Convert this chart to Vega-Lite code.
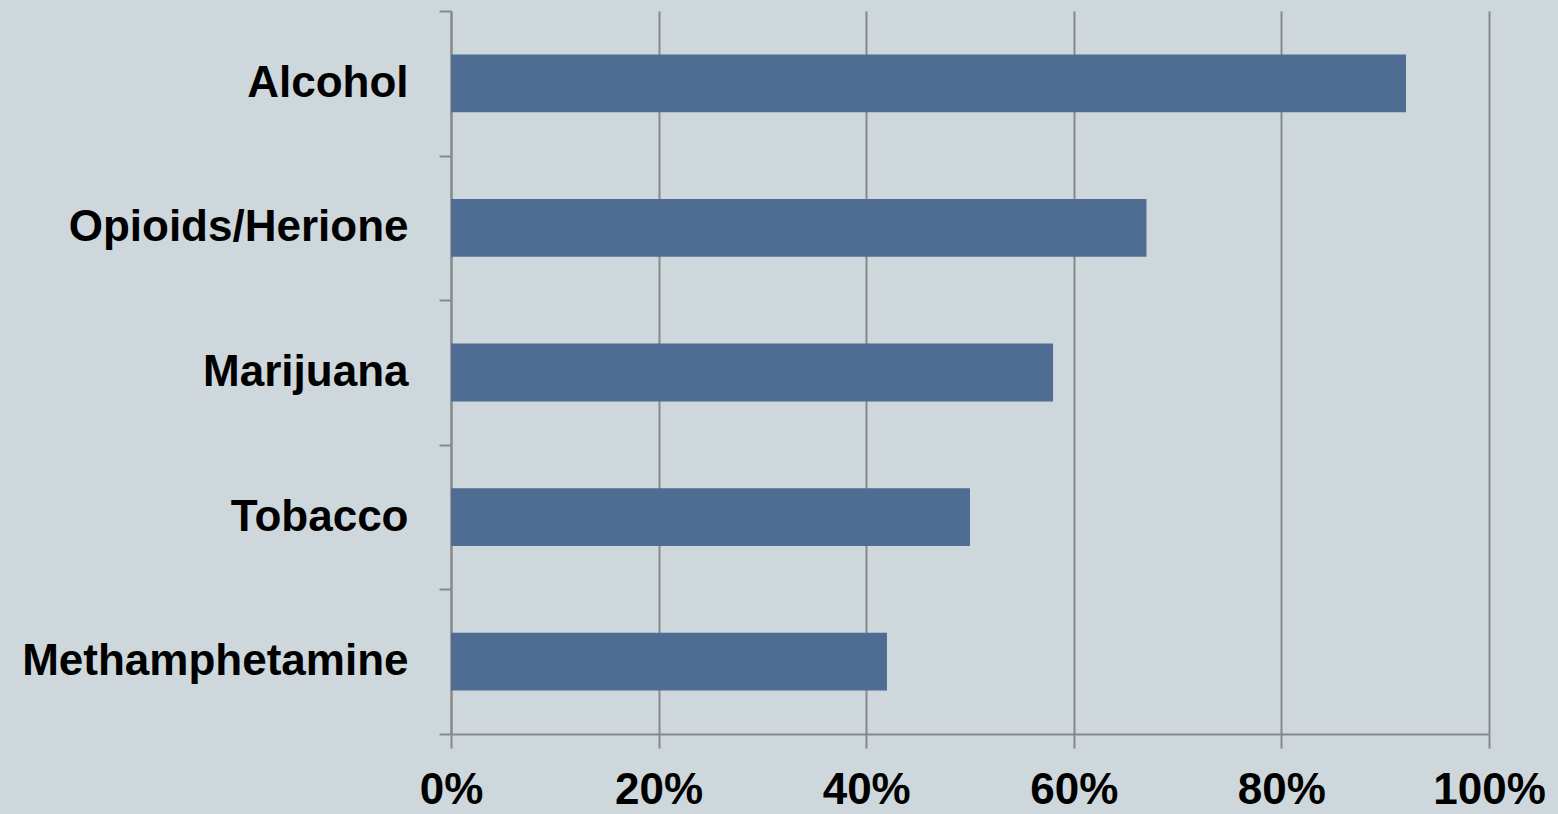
{
  "$schema": "https://vega.github.io/schema/vega-lite/v6.json",
  "autosize": {"type": "none"},
  "width": 1038,
  "height": 723,
  "padding": {"left": 451, "top": 11, "right": 69, "bottom": 80},
  "background": "#CED8DC",
  "config": {
    "view": {"stroke": null},
    "font": "Liberation Sans"
  },
  "data": {
    "values": [
      {"substance": "Alcohol", "share": 0.92},
      {"substance": "Opioids/Herione", "share": 0.67},
      {"substance": "Marijuana", "share": 0.58},
      {"substance": "Tobacco", "share": 0.50},
      {"substance": "Methamphetamine", "share": 0.42}
    ]
  },
  "mark": {"type": "bar", "color": "#4F6C92", "height": {"band": 0.4}},
  "encoding": {
    "y": {
      "field": "substance",
      "type": "nominal",
      "sort": null,
      "scale": {"paddingInner": 0, "paddingOuter": 0},
      "axis": {
        "title": null,
        "tickBand": "extent",
        "tickSize": 12,
        "tickWidth": 2,
        "tickColor": "#888888",
        "domainColor": "#888888",
        "domainWidth": 2,
        "labelPadding": 31,
        "labelFontSize": 44,
        "labelFontWeight": "bold",
        "labelColor": "#000000",
        "labelFont": "Liberation Sans",
        "labelLimit": 0,
        "grid": false
      }
    },
    "x": {
      "field": "share",
      "type": "quantitative",
      "scale": {"domain": [0, 1], "nice": false},
      "axis": {
        "title": null,
        "format": ".0%",
        "values": [0, 0.2, 0.4, 0.6, 0.8, 1],
        "tickSize": 14,
        "tickWidth": 2,
        "tickColor": "#888888",
        "domainColor": "#888888",
        "domainWidth": 2,
        "grid": true,
        "gridColor": "#888888",
        "gridWidth": 2,
        "gridOpacity": 1,
        "labelPadding": 20,
        "labelFontSize": 44,
        "labelFontWeight": "bold",
        "labelColor": "#000000",
        "labelFont": "Liberation Sans",
        "labelFlush": false,
        "labelOverlap": false
      }
    }
  }
}
